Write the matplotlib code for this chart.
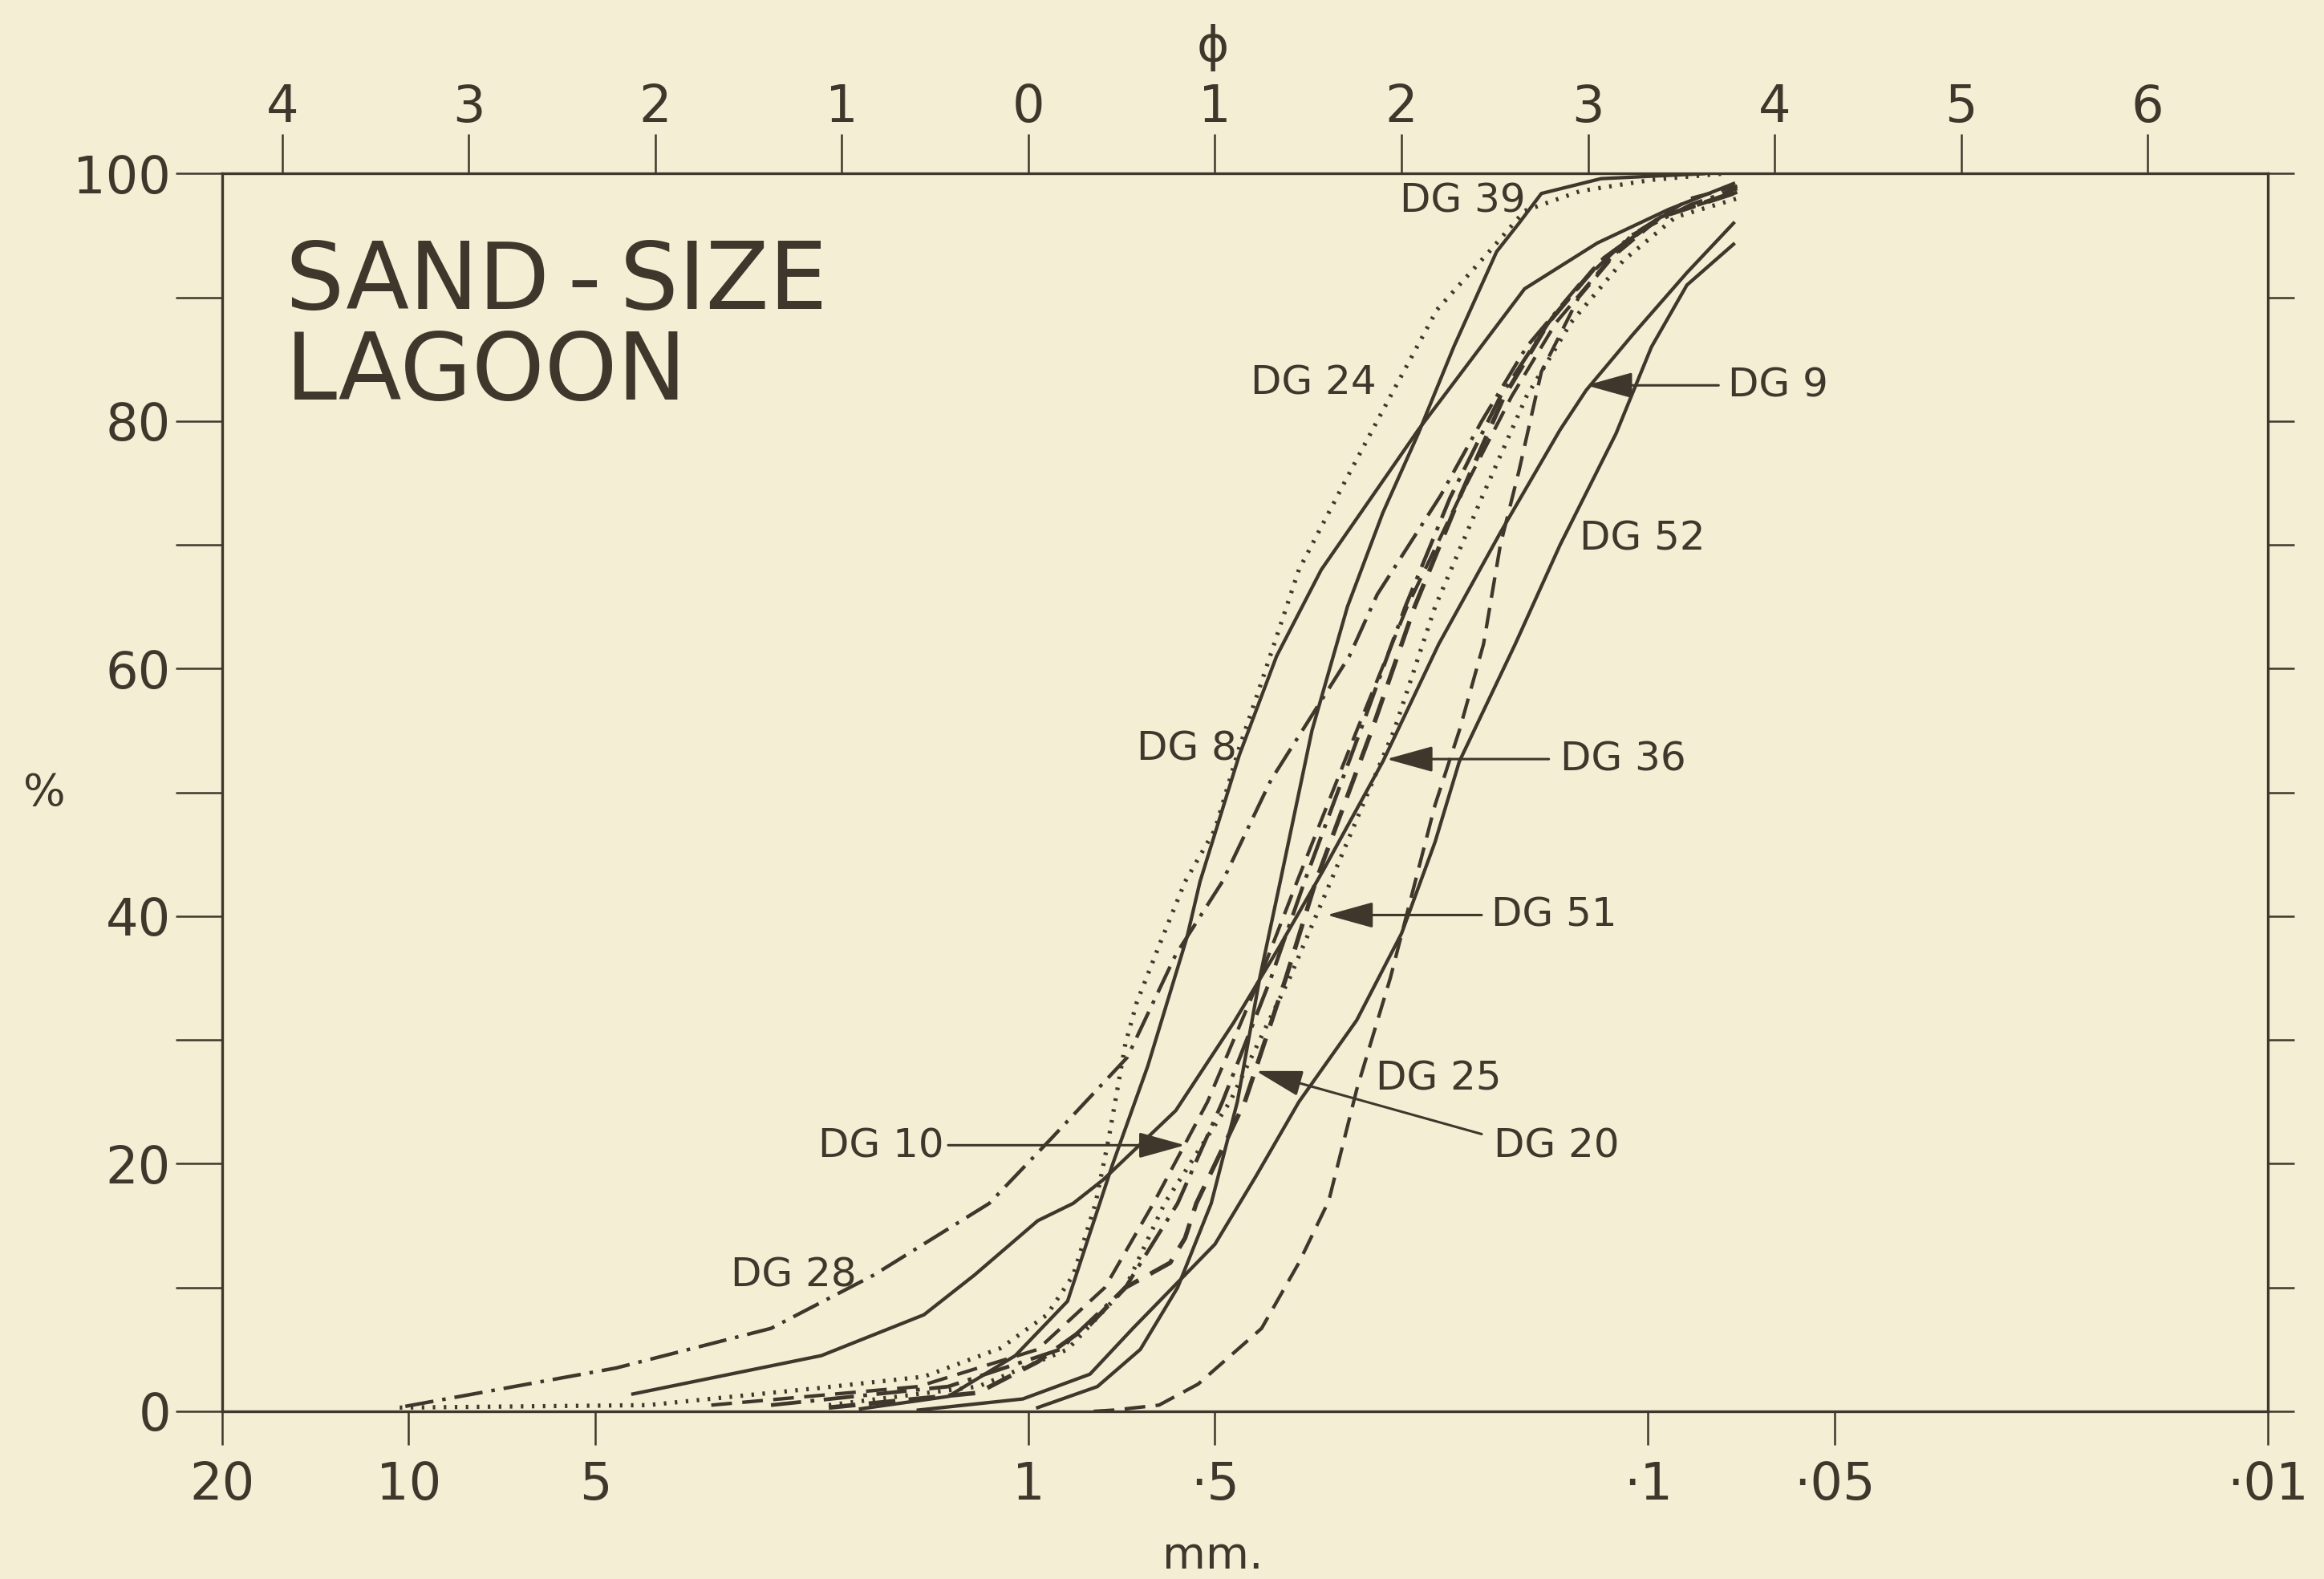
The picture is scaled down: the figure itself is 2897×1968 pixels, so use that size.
"""Sand-size lagoon grain-size curves (cumulative %, mm and phi scales)"""

import matplotlib
matplotlib.use("Agg")
from matplotlib import pyplot as plt

# curves: phi size vs cumulative percent
dg28_phi = [-3.34, -2.21, -1.38, -0.83, -0.21, 0.12, 0.53, 0.79, 1.04, 1.30,
            1.72, 1.87, 2.21, 2.43, 2.67, 2.95, 3.23, 3.55, 3.80]
dg28_pct = [0.4, 3.5, 6.7, 11, 16.8, 22, 28.6, 36.9, 42.8, 51,
            61, 66, 74, 80, 86, 91, 95, 97.5, 98.8]

dg24_phi = [-3.37, -2.04, -1.11, -0.56, -0.15, 0.10, 0.24, 0.36, 0.43, 0.52,
            0.58, 0.70, 0.84, 1.00, 1.13, 1.24, 1.45, 1.71, 1.94, 2.19,
            2.47, 2.66, 2.96, 3.34, 3.72]
dg24_pct = [0.3, 0.5, 1.9, 2.8, 5.1, 7.8, 11, 16.8, 22, 29.7,
            33, 37.6, 42.8, 47, 53.6, 58.5, 68, 75.5, 82, 89,
            93.7, 97, 98.6, 99.5, 100]

dg9_phi = [-2.12, -1.11, -0.56, -0.29, 0.05, 0.24, 0.40, 0.79, 1.10, 1.34,
           1.58, 1.90, 2.20, 2.53, 2.85, 2.99, 3.24, 3.53, 3.78]
dg9_pct = [1.4, 4.5, 7.8, 11, 15.4, 16.8, 18.7, 24.3, 31.4, 37.4,
           43.7, 52.5, 62, 71, 79.3, 82.5, 87, 92, 96]

dg52_phi = [-0.59, -0.03, 0.33, 0.56, 1.00, 1.22, 1.45, 1.76, 2.00, 2.18,
            2.31, 2.61, 2.85, 3.15, 3.34, 3.53, 3.78]
dg52_pct = [0.1, 1, 3, 6.7, 13.5, 19, 25, 31.6, 38.6, 46,
            52.5, 62, 70, 79, 86, 91, 94.3]

dg39_phi = [0.05, 0.37, 0.60, 0.80, 0.98, 1.12, 1.24, 1.35, 1.52, 1.71,
            1.90, 2.09, 2.28, 2.51, 2.63, 2.75, 3.07, 3.62]
dg39_pct = [0.3, 2, 5, 10, 16.8, 25, 35, 42.8, 55, 65,
            72.6, 79, 86, 93.7, 96, 98.4, 99.6, 100]

dg8_phi = [-0.90, -0.43, -0.07, 0.21, 0.45, 0.64, 0.85, 0.92, 1.13, 1.33,
           1.57, 2.09, 2.66, 3.05, 3.43, 3.78]
dg8_pct = [0.2, 1.2, 4.5, 8.9, 19.9, 27.9, 38.3, 42.8, 53, 61,
           68, 79.3, 90.7, 94.4, 97.1, 99.2]

dg10_phi = [-1.70, -0.59, 0.05, 0.41, 0.67, 0.96, 1.24, 1.44, 1.76, 2.03,
            2.31, 2.59, 2.83, 3.11, 3.39, 3.80]
dg10_pct = [0.5, 2, 5, 10, 16.8, 25, 35, 42.8, 55, 65,
            73.8, 82, 88, 93, 96.5, 98.5]

dg36_phi = [-1.07, -0.27, 0.21, 0.52, 0.73, 1.08, 1.40, 1.62, 1.96, 2.18,
            2.43, 2.67, 2.91, 3.19, 3.47, 3.80]
dg36_pct = [0.5, 2, 5, 10, 16.8, 25, 35, 42.8, 55, 65,
            73.8, 82, 88, 93, 96.5, 98]

dg20_phi = [-1.07, -0.27, 0.05, 0.33, 0.52, 0.76, 0.84, 0.90, 1.16, 1.38,
            1.54, 1.84, 2.07, 2.31, 2.55, 2.79, 3.07, 3.39, 3.80]
dg20_pct = [0.3, 1.5, 4, 7, 10, 12, 14, 16.8, 25, 35,
            42.8, 55, 65, 73.8, 82, 88, 93, 96.5, 98.5]

dg51_phi = [-1.38, -0.43, 0.17, 0.52, 0.80, 1.04, 1.30, 1.48, 1.78, 2.02,
            2.26, 2.53, 2.79, 3.07, 3.39, 3.78]
dg51_pct = [0.5, 2, 5, 10, 16.8, 25, 35, 42.8, 55, 65,
            73.8, 82, 88, 93, 96.5, 98.5]

dg25_phi = [0.35, 0.46, 0.70, 0.91, 1.25, 1.45, 1.61, 1.76, 1.94, 2.06,
            2.18, 2.31, 2.44, 2.53, 2.63, 2.75, 2.95, 3.23, 3.55, 3.80]
dg25_pct = [0, 0.1, 0.5, 2.2, 6.7, 12, 17, 26, 35, 42,
            49, 55, 62, 70, 76, 84, 90, 95, 98, 99]

y_ticks = [0, 20, 40, 60, 80, 100]
mm_ticks = [20, 10, 5, 1, 0.5, 0.1, 0.05, 0.01]
mm_labels = ['20', '10', '5', '1', '\u00b75', '\u00b71', '\u00b705', '\u00b701']
phi_ticks = [-4, -3, -2, -1, 0, 1, 2, 3, 4, 5, 6]

INK = '#3f372b'
PAPER = '#f4eed4'

DOT = (0, (0.6, 2.0))
DASH = (0, (6, 3))
DASHDOT = (0, (8, 2.5, 1, 2.5))

plt.rcParams['font.family'] = ['DejaVu Sans']
plt.rcParams['text.color'] = INK


def mm(phis):
    return [2.0 ** -p for p in phis]


fig = plt.figure(figsize=(28.97, 19.68), dpi=100, facecolor=PAPER)
ax = fig.add_axes([0.0956, 0.1062, 0.8802, 0.7838])
ax.set_facecolor(PAPER)

curves = [
    (dg28_phi, dg28_pct, DASHDOT, 3.2),
    (dg24_phi, dg24_pct, DOT, 3.8),
    (dg9_phi, dg9_pct, '-', 3.1),
    (dg52_phi, dg52_pct, '-', 3.1),
    (dg39_phi, dg39_pct, '-', 3.1),
    (dg8_phi, dg8_pct, '-', 3.1),
    (dg10_phi, dg10_pct, DASH, 3.1),
    (dg36_phi, dg36_pct, DOT, 3.8),
    (dg20_phi, dg20_pct, DASH, 4.0),
    (dg51_phi, dg51_pct, DASHDOT, 3.4),
    (dg25_phi, dg25_pct, DASH, 3.1),
]
for phis, pcts, style, lw in curves:
    ax.plot(mm(phis), pcts, color=INK, linestyle=style, lw=lw)

ax.set_xscale('log')
ax.set_xlim(20, 0.01)
ax.set_ylim(0, 100)

for side in ['left', 'right', 'top', 'bottom']:
    ax.spines[side].set_color(INK)
    ax.spines[side].set_linewidth(2.4)

ax.set_xticks(mm_ticks)
ax.set_xticklabels(mm_labels)
ax.xaxis.set_minor_locator(matplotlib.ticker.NullLocator())
ax.set_yticks(range(0, 101, 10))
ax.set_yticklabels([str(v) if v in y_ticks else '' for v in range(0, 101, 10)])
ax.tick_params(axis='x', direction='out', length=30, width=1.8, pad=14,
               labelsize=46, colors=INK)
ax.tick_params(axis='y', direction='out', length=42, width=1.8, pad=4,
               labelsize=46, colors=INK, right=True)
# right side ticks are shorter than the left ones
for t in ax.yaxis.get_major_ticks():
    t.tick2line.set_markersize(24)

# phi scale on top
ax_top = ax.twiny()
ax_top.set_xscale('log')
ax_top.set_xlim(ax.get_xlim())
ax_top.set_xticks([2.0 ** -p for p in phi_ticks])
ax_top.set_xticklabels([str(abs(p)) for p in phi_ticks])
ax_top.xaxis.set_minor_locator(matplotlib.ticker.NullLocator())
ax_top.tick_params(axis='x', direction='out', length=35, width=1.8, pad=2,
                   labelsize=46, colors=INK)
for side in ['left', 'right', 'top', 'bottom']:
    ax_top.spines[side].set_visible(False)

ax.text(0.031, 0.948, 'SAND\u2009-\u2009SIZE\nLAGOON', transform=ax.transAxes,
        fontsize=83, va='top', ha='left', linespacing=1.02, color=INK)

fig.text(818 / 1568, 1 - 32 / 1065, '\u03d5', ha='center', va='center',
         fontsize=44, color=INK)
fig.text(818 / 1568, 1 - 1050 / 1065, 'mm.', ha='center', va='center',
         fontsize=40, color=INK)
fig.text(30 / 1568, 1 - 535 / 1065, '%', ha='center', va='center',
         fontsize=40, color=INK)

# sample labels (phi, pct)
labels = [
    ('DG 39', 2.33, 97.8),
    ('DG 24', 1.53, 83.1),
    ('DG 9', 4.02, 82.9),
    ('DG 52', 3.29, 70.5),
    ('DG 8', 0.85, 53.5),
    ('DG 36', 3.19, 52.7),
    ('DG 51', 2.82, 40.1),
    ('DG 25', 2.20, 26.9),
    ('DG 20', 2.83, 21.4),
    ('DG 10', -0.79, 21.4),
    ('DG 28', -1.26, 11.0),
]
for name, p, pct in labels:
    ax.text(2.0 ** -p, pct, name, fontsize=36, ha='center', va='center',
            color=INK)

# pointer arrows (tail phi, tail pct, tip phi, tip pct)
arrows = [
    (3.70, 82.9, 2.99, 82.9),
    (2.79, 52.7, 1.92, 52.7),
    (2.43, 40.1, 1.60, 40.1),
    (2.43, 22.4, 1.22, 27.5),
    (-0.43, 21.5, 0.84, 21.5),
]
for p0, y0, p1, y1 in arrows:
    ax.annotate('', xy=(2.0 ** -p1, y1), xytext=(2.0 ** -p0, y0),
                arrowprops=dict(arrowstyle='-|>,head_length=0.9,head_width=0.25',
                                color=INK, lw=2.2, mutation_scale=40,
                                shrinkA=0, shrinkB=0))

fig.savefig('out.png', dpi=100, facecolor=PAPER)
